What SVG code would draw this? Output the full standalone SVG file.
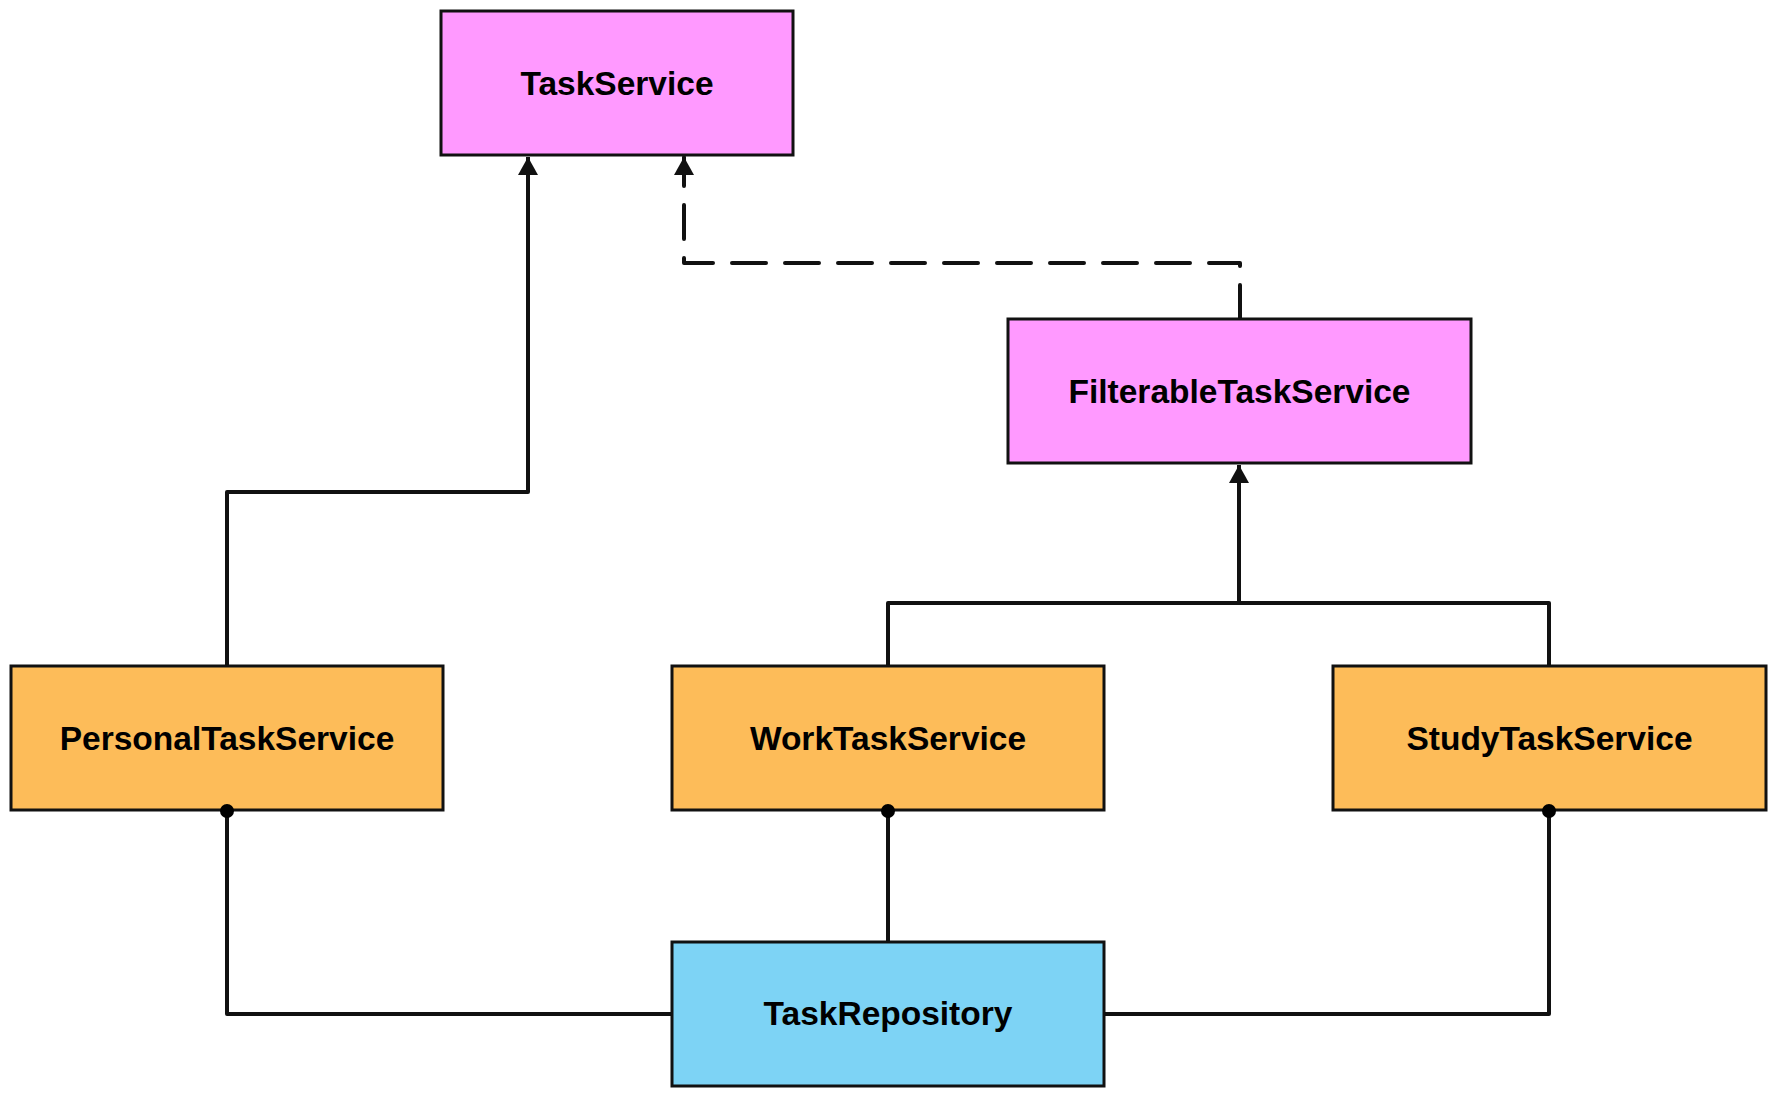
<svg xmlns="http://www.w3.org/2000/svg" width="1776" height="1098" viewBox="0 0 1776 1098">
<style>
.box{stroke:#111;stroke-width:3}
.iface{fill:#FF99FF}
.impl{fill:#FDBC59}
.repo{fill:#7DD3F5}
.lbl{font-family:"Liberation Sans",Arial,sans-serif;font-weight:bold;font-size:33.5px;fill:#000;text-anchor:middle}
.conn{fill:none;stroke:#111;stroke-width:4;stroke-linejoin:round}
.dash{stroke-dasharray:34 19;stroke-linecap:round}
</style>
<defs>
<marker id="arr" viewBox="0 0 18 20" refX="18" refY="10" markerWidth="18" markerHeight="20" markerUnits="userSpaceOnUse" orient="auto">
<path d="M0,0 L18,10 L0,20 Z" fill="#111"/>
</marker>
</defs>
<rect width="1776" height="1098" fill="#fff"/>
<g id="connectors">
<path class="conn" d="M227,666 L227,492 L528,492 L528,157" marker-end="url(#arr)"/>
<path class="conn dash" d="M1240,319 L1240,263 L684,263 L684,157" marker-end="url(#arr)"/>
<path class="conn" d="M888,666 L888,603 L1549,603 L1549,666"/>
<path class="conn" d="M1239,603 L1239,465" marker-end="url(#arr)"/>
<path class="conn" d="M227,811 L227,1014 L672,1014"/>
<path class="conn" d="M888,811 L888,942"/>
<path class="conn" d="M1549,811 L1549,1014 L1104,1014"/>
</g>
<g id="TaskService">
<rect class="box iface" x="441" y="11" width="352" height="144"/>
<text class="lbl" x="617" y="95">TaskService</text>
</g>
<g id="FilterableTaskService">
<rect class="box iface" x="1008" y="319" width="463" height="144"/>
<text class="lbl" x="1239.5" y="403">FilterableTaskService</text>
</g>
<g id="PersonalTaskService">
<rect class="box impl" x="11" y="666" width="432" height="144"/>
<text class="lbl" x="227" y="750">PersonalTaskService</text>
</g>
<g id="WorkTaskService">
<rect class="box impl" x="672" y="666" width="432" height="144"/>
<text class="lbl" x="888" y="750">WorkTaskService</text>
</g>
<g id="StudyTaskService">
<rect class="box impl" x="1333" y="666" width="433" height="144"/>
<text class="lbl" x="1549.5" y="750">StudyTaskService</text>
</g>
<g id="TaskRepository">
<rect class="box repo" x="672" y="942" width="432" height="144"/>
<text class="lbl" x="888" y="1025">TaskRepository</text>
</g>
<g id="dots">
<circle cx="227" cy="811" r="7" fill="#000"/>
<circle cx="888" cy="811" r="7" fill="#000"/>
<circle cx="1549" cy="811" r="7" fill="#000"/>
</g>
</svg>
